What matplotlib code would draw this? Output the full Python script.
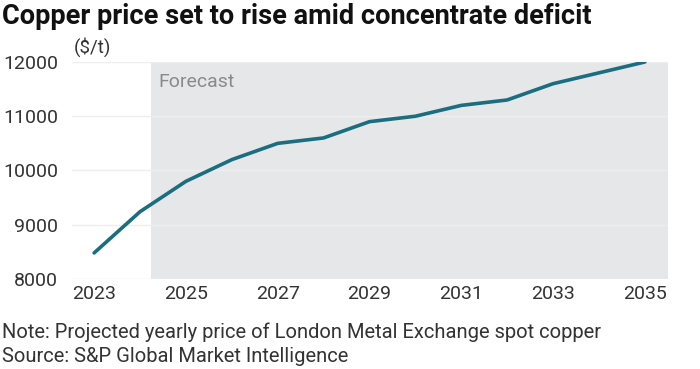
import matplotlib
matplotlib.use("Agg")
import matplotlib.pyplot as plt

plt.rcParams["font.family"] = ["Roboto", "DejaVu Sans"]

years = [2023, 2024, 2025, 2026, 2027, 2028, 2029, 2030, 2031, 2032, 2033, 2034, 2035]
price = [8480, 9240, 9800, 10200, 10500, 10600, 10900, 11000, 11200, 11300, 11600, 11800, 12000]
year_ticks = [2023, 2025, 2027, 2029, 2031, 2033, 2035]
price_ticks = [8000, 9000, 10000, 11000, 12000]
forecast_start = 2024.25

fig = plt.figure(figsize=(7, 3.69), dpi=100)
ax = fig.add_axes([0.103, 0.244, 0.851, 0.588])

ax.set_xlim(2022.52, 2035.5)
ax.set_ylim(8000, 12000)

# shaded forecast region
ax.axvspan(forecast_start, 2035.5, color="#e6e7e9", lw=0, zorder=0)
ax.text(forecast_start + 0.15, 11800, "Forecast", color="#8a8a8a", fontsize=14,
        va="top", ha="left", zorder=3)

for p in price_ticks:
    ax.axhline(p, color="#eeeeee", lw=1, zorder=1)

ax.plot(years, price, color="#1b6d80", lw=2.6, zorder=4, solid_capstyle="round")

for s in ax.spines.values():
    s.set_visible(False)
ax.set_xticks(year_ticks)
ax.set_yticks(price_ticks)
ax.tick_params(length=0, labelsize=14, colors="#333333")
ax.tick_params(axis="y", pad=10)
ax.tick_params(axis="x", pad=4)

fig.text(0.105, 0.845, "($/t)", fontsize=13.5, color="#333333", va="bottom", ha="left")
fig.text(0.003, 0.92, "Copper price set to rise amid concentrate deficit",
         fontsize=19.5, fontweight="bold", color="#111111", va="bottom", ha="left")
fig.text(0.003, 0.1, "Note: Projected yearly price of London Metal Exchange spot copper",
         fontsize=14.5, color="#333333", va="center", ha="left")
fig.text(0.003, 0.033, "Source: S&P Global Market Intelligence",
         fontsize=14.5, color="#333333", va="center", ha="left")

fig.savefig("out.png", dpi=100)
